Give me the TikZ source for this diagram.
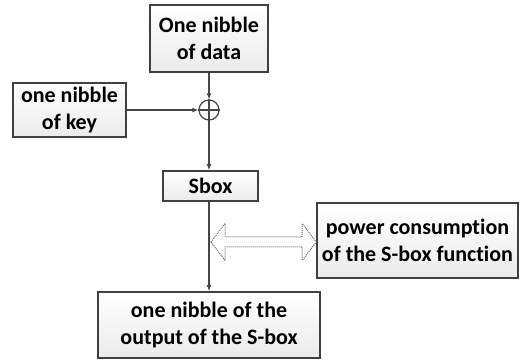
\documentclass[tikz,border=0pt]{standalone}
\usepackage{fontspec}
\setmainfont[Ligatures=NoCommon]{Carlito}
\usetikzlibrary{arrows.meta,calc}

\definecolor{boxgray}{RGB}{64,64,64}
\definecolor{linegray}{RGB}{70,70,70}

\tikzset{
  blockbox/.style={draw=boxgray, line width=1.6pt, top color=white, bottom color=gray!16,
                   align=center, inner sep=0pt, font=\fontsize{22}{27}\selectfont\bfseries},
  flow/.style={linegray, line width=1.2pt, -{Latex[length=6pt,width=5pt]}}
}

\begin{document}
\begin{tikzpicture}[x=1pt, y=-1pt]
  \useasboundingbox (0,0) rectangle (520,363);

  % Blocks
  \node[blockbox, minimum width=118, minimum height=67] (data) at (209,38.5) {One nibble\\of data};
  \node[blockbox, minimum width=113, minimum height=54] (key) at (69.5,110) {one nibble\\of key};
  \node[blockbox, minimum width=95, minimum height=30] (sbox) at (210.5,186) {Sbox};
  \node[blockbox, minimum width=201, minimum height=75] (power) at (417.5,240.5) {power consumption\\of the S-box function};
  \node[blockbox, minimum width=222, minimum height=66] (out) at (209,325) {one nibble of the\\output of the S-box};

  % XOR
  \node[circle, draw=linegray, line width=1.2pt, minimum size=20, inner sep=0pt] (xor) at (209,110) {};
  \draw[linegray, line width=1.2pt] (xor.west) -- (xor.east);
  \draw[linegray, line width=1.2pt] (xor.north) -- (xor.south);

  % Data path
  \draw[flow] (data.south) -- (xor.north);
  \draw[flow] (key.east) -- (xor.west);
  \draw[flow] (xor.south) -- (xor.south |- sbox.north);
  \draw[flow] (sbox.south -| xor.south) -- (out.north);

  % Leakage
  \coordinate (lt) at (211,242);
  \coordinate (rt) at (power.west |- lt);
  \draw[gray!80!black, line width=1pt, densely dotted]
        (lt) -- ++(14,-18.5) -- ++(0,13.5) -- ($(rt)+(-14,-5)$) -- ++(0,-13.5)
        -- (rt) -- ++(-14,18.5) -- ++(0,-13.5) -- ($(lt)+(14,5)$) -- ++(0,13.5) -- cycle;
\end{tikzpicture}
\end{document}
